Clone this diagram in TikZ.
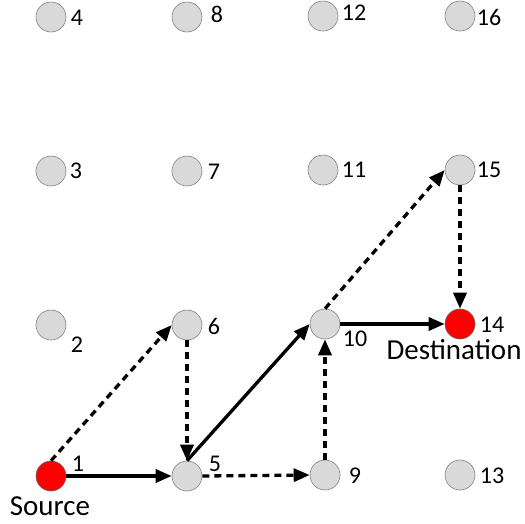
\documentclass[tikz,border=0pt]{standalone}
\usepackage{fontspec}
\setmainfont{Carlito}
\usetikzlibrary{arrows.meta}
\tikzset{
  nd/.style={circle,draw=black!50,line width=0.6pt,fill=black!15,minimum size=30pt,inner sep=0pt},
  rednd/.style={nd,fill=red,draw=black!60},
  lbl/.style={font=\fontsize{24}{28}\selectfont,inner sep=0pt},
  biglbl/.style={font=\fontsize{29}{33}\selectfont,inner sep=0pt},
  edge/.style={line width=3.3pt,-{Triangle[length=16pt,width=13pt]}},
  dedge/.style={edge,dash pattern=on 7pt off 5pt}
}
\begin{document}
\begin{tikzpicture}[x=1pt,y=-1pt]
\useasboundingbox (0,0) rectangle (525,523);
% nodes
\node[nd] (n4) at (51,17) {};
\node[nd] (n8) at (187,17) {};
\node[nd] (n12) at (323,16) {};
\node[nd] (n16) at (460,16) {};
\node[nd] (n3) at (51,171) {};
\node[nd] (n7) at (187,171) {};
\node[nd] (n11) at (323,170) {};
\node[nd] (n15) at (460,170) {};
\node[nd] (n2) at (51,325) {};
\node[nd] (n6) at (187,325) {};
\node[nd] (n10) at (325,324) {};
\node[rednd] (n14) at (460,324) {};
\node[rednd] (n1) at (51,476) {};
\node[nd] (n5) at (187,476) {};
\node[nd] (n9) at (325,475) {};
\node[nd] (n13) at (460,475) {};
% labels
\node[lbl] (l4) at (77,18) {4};
\node[lbl] (l8) at (217,14) {8};
\node[lbl] (l12) at (354,13) {12};
\node[lbl] (l16) at (489,17) {16};
\node[lbl] (l3) at (76,171) {3};
\node[lbl] (l7) at (214,172) {7};
\node[lbl] (l11) at (354,170) {11};
\node[lbl] (l15) at (489,170) {15};
\node[lbl] (l2) at (77,345) {2};
\node[lbl] (l6) at (214,326) {6};
\node[lbl] (l10) at (355,339) {10};
\node[lbl] (l14) at (492,325) {14};
\node[biglbl] (ldest) at (454,350) {Destination};
\node[lbl] (l1) at (78,464) {1};
\node[lbl] (l5) at (215,464) {5};
\node[lbl] (l9) at (355,476) {9};
\node[lbl] (l13) at (492,476) {13};
\node[biglbl] (lsrc) at (50,506) {Source};
% edges
\draw[edge] (n1.east) -- (n5.west);
\draw[dedge] (n1.north) -- (n6.west);
\draw[dedge] (n6.south) -- (n5.north);
\draw[edge] (n5.north) -- (n10.west);
\draw[dedge] (n5.east) -- (n9.west);
\draw[dedge] (n9.north) -- (n10.south);
\draw[dedge] (n10.north) -- (n15.west);
\draw[edge] (n10.east) -- (n14.west);
\draw[dedge] (n15.south) -- (n14.north);
\end{tikzpicture}
\end{document}
